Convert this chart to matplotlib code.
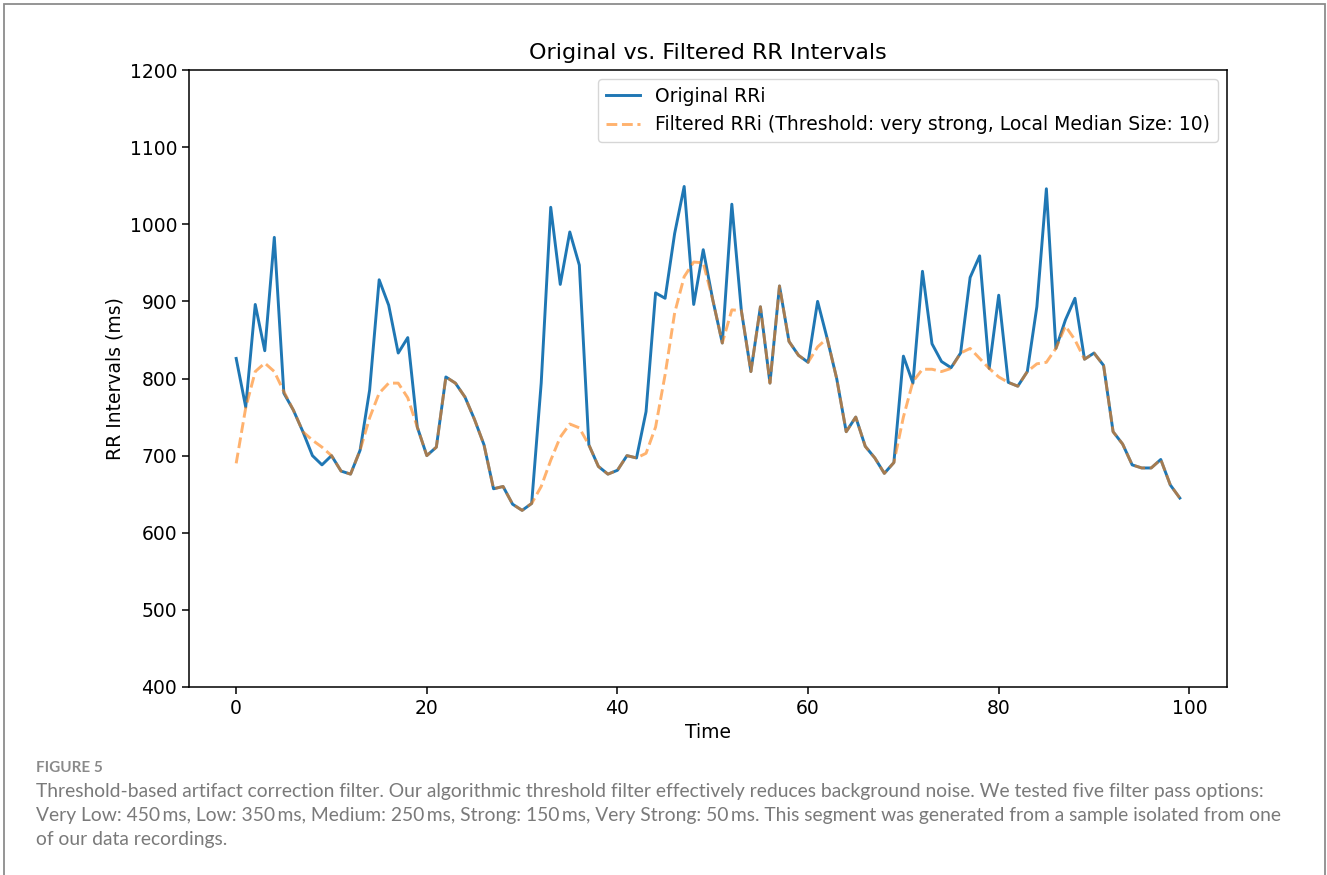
import matplotlib
matplotlib.use("Agg")
import matplotlib.pyplot as plt
from matplotlib.patches import Rectangle

time = list(range(100))
original_rri = [826, 763, 896, 836, 983, 781, 759, 731, 700, 688,
                700, 680, 676, 707, 785, 928, 895, 833, 853, 737,
                700, 711, 802, 794, 776, 747, 714, 657, 660, 637,
                629, 638, 794, 1022, 922, 990, 947, 714, 686, 676,
                681, 700, 697, 757, 911, 904, 988, 1049, 896, 967,
                902, 846, 1026, 888, 809, 893, 794, 920, 848, 830,
                821, 900, 852, 800, 731, 750, 712, 697, 677, 691,
                829, 794, 939, 845, 822, 814, 833, 931, 959, 813,
                908, 795, 790, 809, 893, 1046, 839, 876, 904, 825,
                833, 817, 731, 715, 688, 684, 684, 695, 662, 645]
filtered_rri = [690, 762, 809, 820, 809, 783, 759, 731, 720, 711,
                700, 680, 676, 707, 749, 781, 794, 794, 775, 737,
                700, 711, 802, 794, 776, 747, 714, 657, 660, 637,
                629, 638, 660, 694, 724, 741, 736, 714, 686, 676,
                681, 700, 697, 703, 737, 805, 885, 932, 951, 950,
                902, 846, 889, 888, 809, 893, 794, 920, 848, 830,
                821, 841, 852, 800, 731, 750, 712, 697, 677, 691,
                750, 796, 812, 812, 809, 813, 833, 839, 826, 813,
                802, 795, 790, 809, 819, 821, 839, 868, 850, 825,
                833, 817, 731, 715, 688, 684, 684, 695, 662, 645]

title = "Original vs. Filtered RR Intervals"
xlabel = "Time"
ylabel = "RR Intervals (ms)"
label_orig = "Original RRi"
label_filt = "Filtered RRi (Threshold: very strong, Local Median Size: 10)"
fig_label = "FIGURE 5"
caption_lines = [
    "Threshold-based artifact correction filter. Our algorithmic threshold filter effectively reduces background noise. We tested five filter pass options:",
    "Very Low: 450\u2009ms, Low: 350\u2009ms, Medium: 250\u2009ms, Strong: 150\u2009ms, Very Strong: 50\u2009ms. This segment was generated from a sample isolated from one",
    "of our data recordings.",
]

W, H = 1327, 875
fig = plt.figure(figsize=(W / 100, H / 100), dpi=100)
ax = fig.add_axes([189 / W, 1 - 687 / H, (1227 - 189) / W, (687 - 70) / H])

ax.plot(time, original_rri, color="#1f77b4", lw=2.1, label=label_orig)
ax.plot(time, filtered_rri, color="#ff7f0e", lw=2.1, ls="--", alpha=0.6,
        dashes=(3.7, 1.6), label=label_filt)

ax.set_ylim(400, 1200)
ax.set_xticks([0, 20, 40, 60, 80, 100])
ax.set_yticks(range(400, 1201, 100))
ax.tick_params(labelsize=13.5, length=5, width=1.1)
for s in ax.spines.values():
    s.set_linewidth(1.1)
ax.set_title(title, fontsize=16, pad=8)
ax.set_xlabel(xlabel, fontsize=13.5, labelpad=4)
ax.set_ylabel(ylabel, fontsize=13.5, labelpad=4)
leg = ax.legend(loc="upper right", fontsize=13.5, handlelength=1.85,
                borderaxespad=0.5, framealpha=0.8)

# outer frame
fig.patches.append(Rectangle((4 / W, -0.01), (1325 - 4) / W, 1 - 4 / H + 0.01,
                             transform=fig.transFigure, fill=False,
                             edgecolor="#8c8c8c", lw=1.3))

fig.text(36 / W, 1 - 768 / H, fig_label, fontsize=11, fontweight="bold",
         color="#8a8a8a", family="Lato", va="center")
for k, line in enumerate(caption_lines):
    fig.text(36 / W, 1 - (792 + 23.6 * k) / H, line, fontsize=13.9,
             color="#7a7a7a", family="Lato", va="center")

fig.savefig("out.png", dpi=100)
